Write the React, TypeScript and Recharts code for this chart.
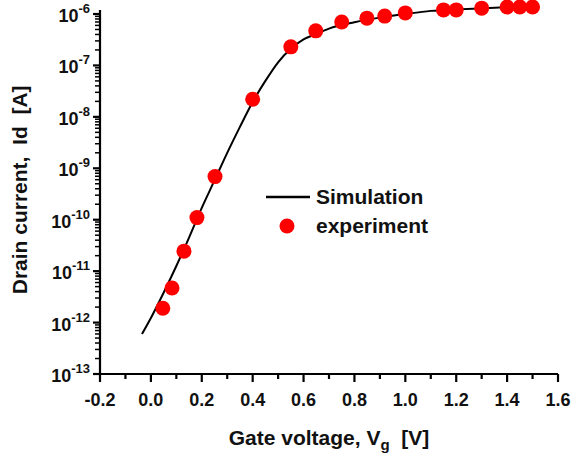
import React from "react";
import {
  ComposedChart,
  Line,
  Scatter,
  XAxis,
  YAxis,
  ReferenceLine,
  Legend,
} from "recharts";

// Simulation curve (gate voltage [V], drain current [A])
const simVg = [-0.035, 0.0, 0.05, 0.1, 0.15, 0.2, 0.25, 0.3, 0.35, 0.4, 0.45, 0.5, 0.55, 0.6, 0.65, 0.7, 0.8, 0.9, 1.0, 1.1, 1.2, 1.3, 1.4, 1.5];
const simId = [6.0e-13, 1.23e-12, 3.8e-12, 1.26e-11, 4.5e-11, 1.7e-10, 5.8e-10, 2.0e-9, 6.4e-9, 1.95e-8, 5.0e-8, 1.15e-7, 2.1e-7, 3.2e-7, 4.1e-7, 5.2e-7, 6.9e-7, 8.5e-7, 1.0e-6, 1.15e-6, 1.23e-6, 1.29e-6, 1.35e-6, 1.38e-6];

// Experimental points
const expVg = [0.047, 0.083, 0.13, 0.181, 0.252, 0.4, 0.55, 0.648, 0.75, 0.849, 0.919, 1.0, 1.15, 1.2, 1.3, 1.4, 1.45, 1.5];
const expId = [1.9e-12, 4.7e-12, 2.45e-11, 1.1e-10, 6.9e-10, 2.2e-8, 2.3e-7, 4.7e-7, 7.0e-7, 8.3e-7, 9.1e-7, 1.05e-6, 1.2e-6, 1.2e-6, 1.3e-6, 1.37e-6, 1.37e-6, 1.37e-6];

// Axis ticks
const xMajorTicks = [-0.2, 0.0, 0.2, 0.4, 0.6, 0.8, 1.0, 1.2, 1.4, 1.6];
const xMinorTicks = [-0.1, 0.1, 0.3, 0.5, 0.7, 0.9, 1.1, 1.3, 1.5];
const yMajorExponents = [-13, -12, -11, -10, -9, -8, -7, -6];
const yMinorMantissas = [2, 3, 4, 5, 6, 7, 8, 9];

const simData = simVg.map((x, i) => ({ x, sim: simId[i] }));
const expData = expVg.map((x, i) => ({ x, exp: expId[i] }));

const yMajorTicks = yMajorExponents.map((e) => Math.pow(10, e));
const yMinorTicks: number[] = [];
yMajorExponents.slice(0, -1).forEach((e) => {
  yMinorMantissas.forEach((m) => yMinorTicks.push(m * Math.pow(10, e)));
});
const yTicks = [...yMajorTicks, ...yMinorTicks];
const xTicks = [...xMajorTicks, ...xMinorTicks];

const FONT = "'Liberation Sans', Arial, sans-serif";

const isMajorX = (v: number) => xMajorTicks.some((t) => Math.abs(t - v) < 1e-9);
const isMajorY = (v: number) => yMajorTicks.some((t) => Math.abs(t - v) / t < 1e-6);

const XTick = (props: any) => {
  const { x, y, payload } = props;
  const v = payload.value;
  const major = isMajorX(v);
  return (
    <g>
      <line x1={x} x2={x} y1={y} y2={y + (major ? 8 : 5)} stroke="#000" strokeWidth={2.2} />
      {major && (
        <text x={x} y={y + 32} textAnchor="middle" fontFamily={FONT} fontWeight="bold" fontSize={18} fill="#111">
          {Math.abs(v) < 1e-9 ? "0.0" : v.toFixed(1)}
        </text>
      )}
    </g>
  );
};

const YTick = (props: any) => {
  const { x, y, payload } = props;
  const v = payload.value;
  const major = isMajorY(v);
  const exp = Math.round(Math.log10(v));
  return (
    <g>
      <line x1={x - (major ? 7 : 5)} x2={x} y1={y} y2={y} stroke="#000" strokeWidth={major ? 2.2 : 1.5} />
      {major && (
        <text x={x - 10} y={y + 8} textAnchor="end" fontFamily={FONT} fontWeight="bold" fontSize={18} fill="#111">
          <tspan>10</tspan>
          <tspan dy={-9} fontSize={13}>{String(exp)}</tspan>
        </text>
      )}
    </g>
  );
};

const XTitle = (props: any) => {
  const vb = props.viewBox || {};
  const cx = vb.x + vb.width / 2;
  return (
    <text x={cx} y={vb.y + 71} textAnchor="middle" fontFamily={FONT} fontWeight="bold" fontSize={21} fill="#111">
      <tspan>Gate voltage, V</tspan>
      <tspan dy={5} fontSize={15}>g</tspan>
      <tspan dy={-5}>{"\u00a0\u00a0[V]"}</tspan>
    </text>
  );
};

const YTitle = (props: any) => {
  const vb = props.viewBox || {};
  const cy = vb.y + vb.height / 2;
  const cx = 27;
  return (
    <text
      x={cx}
      y={cy}
      transform={`rotate(-90 ${cx} ${cy})`}
      textAnchor="middle"
      fontFamily={FONT}
      fontWeight="bold"
      fontSize={21}
      fill="#111"
    >
      {"Drain current,\u00a0\u00a0Id\u00a0\u00a0[A]"}
    </text>
  );
};

const LegendContent = () => (
  <div style={{ fontFamily: FONT, fontWeight: "bold", fontSize: 21, color: "#111", lineHeight: "29px" }}>
    <div style={{ display: "flex", alignItems: "center" }}>
      <svg width={54} height={29}>
        <line x1={4} x2={48} y1={15} y2={15} stroke="#000" strokeWidth={2.5} />
      </svg>
      <span>Simulation</span>
    </div>
    <div style={{ display: "flex", alignItems: "center" }}>
      <svg width={54} height={29}>
        <circle cx={25} cy={15} r={7.5} fill="#ff0000" />
      </svg>
      <span>experiment</span>
    </div>
  </div>
);

const Dot = (props: any) => <circle cx={props.cx} cy={props.cy} r={7.5} fill="#ff0000" />;

export default function App() {
  return (
    <div style={{ position: "absolute", left: 0, top: 0, background: "#fff" }}>
      <ComposedChart width={574} height={459} margin={{ top: 5.7, right: 16, bottom: 0, left: 0 }}>
        <XAxis
          type="number"
          dataKey="x"
          domain={[-0.2, 1.6]}
          ticks={xTicks}
          interval={0}
          tickSize={0}
          tickMargin={0}
          tick={<XTick />}
          axisLine={{ stroke: "#000", strokeWidth: 2.2 }}
          tickLine={false}
          height={85}
          label={<XTitle />}
        />
        <YAxis
          type="number"
          scale="log"
          domain={[1e-13, 1.45e-6]}
          ticks={yTicks}
          interval={0}
          tickSize={0}
          tickMargin={0}
          tick={<YTick />}
          axisLine={false}
          tickLine={false}
          width={100}
          label={<YTitle />}
        />
        <ReferenceLine
          segment={[
            { x: -0.2, y: 1e-13 },
            { x: -0.2, y: 1.2e-6 },
          ]}
          stroke="#000"
          strokeWidth={2.2}
          ifOverflow="visible"
        />
        <Line
          data={simData}
          dataKey="sim"
          name="Simulation"
          type="monotone"
          stroke="#000"
          strokeWidth={2}
          dot={false}
          activeDot={false}
          isAnimationActive={false}
        />
        <Scatter
          data={expData}
          dataKey="exp"
          name="experiment"
          fill="#ff0000"
          shape={<Dot />}
          isAnimationActive={false}
        />
        <Legend
          layout="vertical"
          align="center"
          verticalAlign="middle"
          content={<LegendContent />}
          wrapperStyle={{ position: "absolute", left: 262, top: 182, width: 200 }}
        />
      </ComposedChart>
    </div>
  );
}
